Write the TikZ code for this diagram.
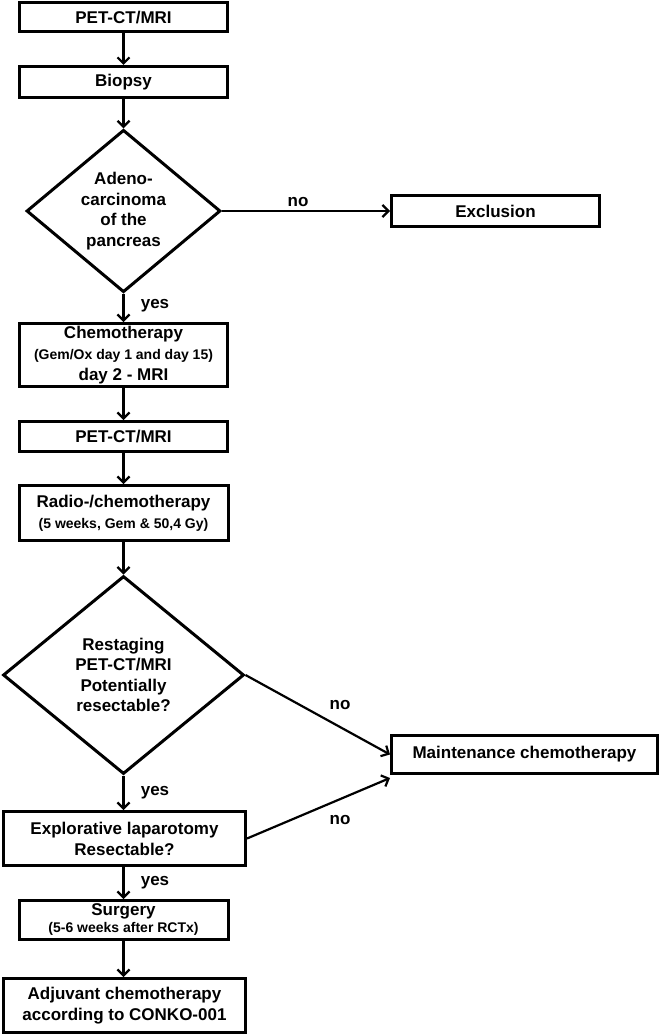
\documentclass[tikz,border=0pt]{standalone}
\usepackage{fontspec}
\setmainfont{Liberation Sans}
\usetikzlibrary{arrows.meta,shapes.geometric}
\begin{document}
\begin{tikzpicture}[x=1pt,y=-1pt,
  box/.style={draw,line width=3pt,rectangle,inner sep=0pt,align=center,
    font=\fontsize{17}{21}\selectfont\bfseries},
  dia/.style={draw,line width=3pt,diamond,inner sep=0pt,align=center,
    font=\fontsize{17}{20.5}\selectfont\bfseries},
  arr/.style={line width=2.2pt,-{Straight Barb[length=6pt,width=12pt,line width=2.2pt]}},
  lab/.style={font=\fontsize{17}{20}\selectfont\bfseries,inner sep=0pt}]
\useasboundingbox (0,0) rectangle (661,1035);
\newcommand{\sm}[1]{{\fontsize{14}{21}\selectfont #1}}
\node[box,minimum width=208pt,minimum height=29pt] (p1) at (123.5,17.5) {PET-CT/MRI};
\node[box,minimum width=208pt,minimum height=31pt] (bio) at (123.5,82) {Biopsy};
\node[dia,minimum width=194pt,minimum height=162pt] (d1) at (123.5,211) {Adeno-\\carcinoma\\of the\\pancreas};
\node[box,minimum width=208pt,minimum height=31pt] (ex) at (495.5,211) {Exclusion};
\node[box,minimum width=208pt,minimum height=63pt] (ch) at (123.5,355) {Chemotherapy\\\sm{(Gem/Ox day 1 and day 15)}\\day 2 - MRI};
\node[box,minimum width=208pt,minimum height=30pt] (p2) at (123.5,436.5) {PET-CT/MRI};
\node[box,minimum width=209pt,minimum height=55pt] (rc) at (123.5,513) {Radio-/chemotherapy\\\sm{(5 weeks, Gem \& 50,4 Gy)}};
\node[dia,minimum width=241pt,minimum height=198pt] (d2) at (123.5,675) {Restaging\\PET-CT/MRI\\Potentially\\resectable?};
\node[box,minimum width=266pt,minimum height=38pt] (mt) at (524.5,754.5) {Maintenance chemotherapy};
\node[box,minimum width=242pt,minimum height=54pt] (el) at (124.5,838.5) {Explorative laparotomy\\Resectable?};
\node[box,minimum width=209pt,minimum height=39pt,font=\fontsize{17}{17}\selectfont\bfseries] (sg) at (123.5,920) {Surgery\\\sm{(5-6 weeks after RCTx)}};
\node[box,minimum width=242pt,minimum height=54pt] (aj) at (124.5,1005.5) {Adjuvant chemotherapy\\according to CONKO-001};
\draw[arr] (p1.south) -- (bio.north);
\draw[arr] (bio.south) -- (d1.north);
\draw[arr] (d1.east) -- (ex.west);
\draw[arr] (d1.south) -- (ch.north);
\draw[arr] (ch.south) -- (p2.north);
\draw[arr] (p2.south) -- (rc.north);
\draw[arr] (rc.south) -- (d2.north);
\draw[arr] (d2.east) -- (mt.west);
\draw[arr] (d2.south) -- (el.north-|d2.south);
\draw[arr] (el.east) -- ([yshift=-3pt]mt.south west);
\draw[arr] (el.south-|sg.north) -- (sg.north);
\draw[arr] (sg.south) -- (aj.north-|sg.south);
\node[lab] (l1) at (298,202) {no};
\node[lab] (l2) at (155,306) {yes};
\node[lab] (l3) at (340,705) {no};
\node[lab] (l4) at (155,793) {yes};
\node[lab] (l5) at (340,820) {no};
\node[lab] (l6) at (155,883) {yes};
\end{tikzpicture}
\end{document}
